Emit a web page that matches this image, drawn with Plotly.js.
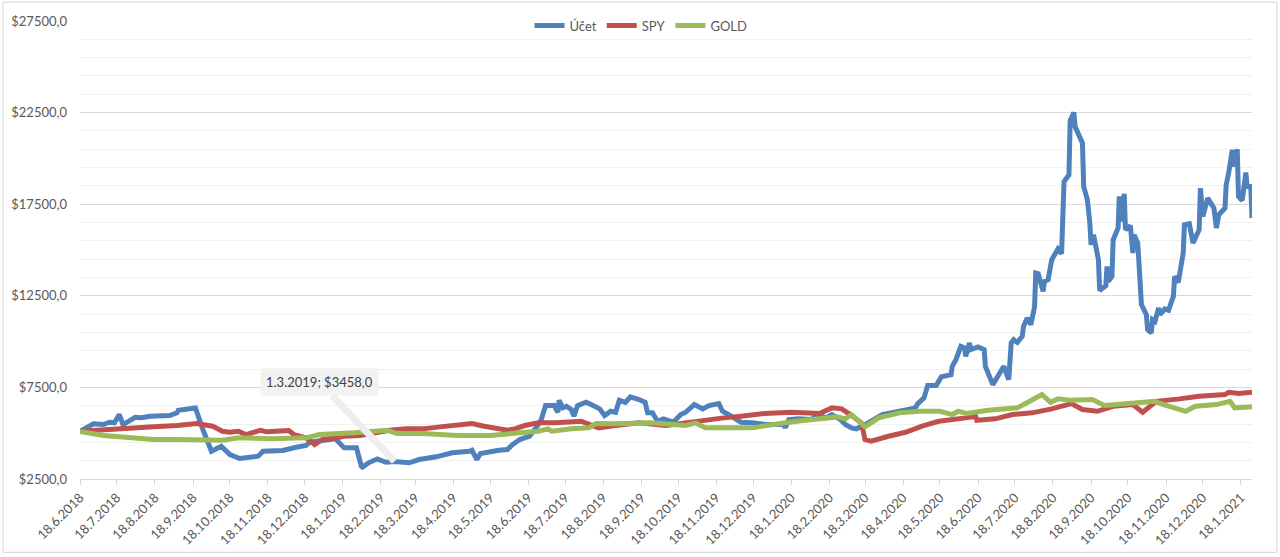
<!DOCTYPE html>
<html>
<head>
<meta charset="utf-8">
<script src="https://cdn.plot.ly/plotly-3.0.1.min.js"></script>
<style>html,body{margin:0;padding:0;background:#fff;}#chart{width:1280px;height:557px;}</style>
</head>
<body>
<div id="chart"></div>
<script>
const seriesNames = ['Účet', 'SPY', 'GOLD'];

const uctetDates = ['2018-06-18','2018-06-29','2018-07-07','2018-07-12','2018-07-16','2018-07-20','2018-07-23','2018-07-27','2018-08-02','2018-08-07','2018-08-14','2018-08-30','2018-09-05','2018-09-06','2018-09-15','2018-09-20','2018-09-26','2018-10-03','2018-10-11','2018-10-18','2018-10-26','2018-11-03','2018-11-10','2018-11-14','2018-11-30','2018-12-11','2018-12-19','2018-12-22','2018-12-30','2019-01-04','2019-01-12','2019-01-19','2019-01-29','2019-02-02','2019-02-03','2019-02-08','2019-02-15','2019-02-22','2019-03-01','2019-03-13','2019-03-21','2019-04-04','2019-04-14','2019-04-17','2019-05-01','2019-05-03','2019-05-07','2019-05-10','2019-05-25','2019-06-01','2019-06-05','2019-06-11','2019-06-19','2019-06-23','2019-06-28','2019-07-02','2019-07-09','2019-07-12','2019-07-13','2019-07-16','2019-07-19','2019-07-23','2019-07-25','2019-07-28','2019-08-04','2019-08-08','2019-08-15','2019-08-19','2019-08-24','2019-08-28','2019-08-31','2019-09-05','2019-09-09','2019-09-16','2019-09-21','2019-09-23','2019-09-27','2019-10-01','2019-10-06','2019-10-14','2019-10-20','2019-10-24','2019-10-31','2019-11-07','2019-11-12','2019-11-20','2019-11-23','2019-11-28','2019-12-05','2019-12-08','2019-12-17','2019-12-28','2020-01-12','2020-01-13','2020-01-16','2020-01-24','2020-02-03','2020-02-09','2020-02-15','2020-02-20','2020-02-27','2020-03-02','2020-03-07','2020-03-11','2020-03-18','2020-04-01','2020-04-15','2020-04-24','2020-04-28','2020-04-30','2020-05-05','2020-05-08','2020-05-15','2020-05-19','2020-05-27','2020-05-28','2020-05-31','2020-06-04','2020-06-07','2020-06-08','2020-06-11','2020-06-12','2020-06-18','2020-06-23','2020-06-24','2020-06-30','2020-07-09','2020-07-13','2020-07-15','2020-07-17','2020-07-20','2020-07-24','2020-07-25','2020-07-28','2020-07-31','2020-08-03','2020-08-04','2020-08-06','2020-08-10','2020-08-11','2020-08-14','2020-08-17','2020-08-20','2020-08-22','2020-08-25','2020-08-27','2020-08-31','2020-09-01','2020-09-04','2020-09-05','2020-09-11','2020-09-12','2020-09-15','2020-09-16','2020-09-17','2020-09-18','2020-09-20','2020-09-24','2020-09-25','2020-09-30','2020-10-01','2020-10-02','2020-10-05','2020-10-06','2020-10-10','2020-10-11','2020-10-13','2020-10-15','2020-10-16','2020-10-20','2020-10-22','2020-10-23','2020-10-26','2020-10-29','2020-11-02','2020-11-03','2020-11-06','2020-11-07','2020-11-09','2020-11-12','2020-11-13','2020-11-17','2020-11-20','2020-11-24','2020-11-25','2020-11-28','2020-12-01','2020-12-02','2020-12-03','2020-12-07','2020-12-10','2020-12-15','2020-12-16','2020-12-18','2020-12-22','2020-12-27','2020-12-29','2020-12-31','2021-01-05','2021-01-06','2021-01-08','2021-01-11','2021-01-12','2021-01-15','2021-01-16','2021-01-19','2021-01-22','2021-01-23','2021-01-26','2021-01-27'];
const uctetValues = [5100,5510,5470,5600,5565,6017,5470,5600,5870,5840,5925,5960,6110,6250,6290,6380,5200,4016,4290,3836,3618,3655,3745,4016,4054,4234,4327,4507,4600,4654,4692,4200,4200,3200,3150,3383,3600,3416,3458,3383,3563,3710,3836,3930,4016,4070,3563,3890,4070,4109,4380,4654,4834,5200,5652,6508,6508,6143,6797,6383,6470,6290,5925,6508,6688,6563,6328,5963,6197,6143,6797,6688,6982,6835,6688,6110,6110,5652,5783,5600,6017,6143,6563,6328,6508,6617,6197,6017,5745,5600,5565,5472,5472,5292,5745,5783,5745,6017,5837,6017,5745,5472,5292,5237,5472,6017,6197,6290,6383,6617,6928,7598,7598,8073,8198,8651,9016,9741,9654,9196,9927,9562,9709,9562,8651,7653,8651,7926,9927,10107,9960,10287,10832,11290,10925,11890,13744,13706,12741,13286,13378,14469,14834,15052,14796,18739,19104,22065,22502,21739,20833,18467,17741,17287,16470,15287,15832,14469,12795,13051,14104,13286,13560,15560,16198,17922,16558,18069,16105,16324,14834,15832,15380,12015,11470,10652,10470,11197,11105,11835,11470,11780,11705,12468,13560,13233,14197,14834,16378,16433,15380,16105,18376,16831,17832,17287,16198,16923,17287,18559,19197,20467,19557,20500,17922,17704,19230,18467,18467,16743];

const spyDates = ['2018-06-18','2018-07-07','2018-07-23','2018-08-17','2018-09-05','2018-09-21','2018-10-04','2018-10-12','2018-10-18','2018-10-25','2018-10-31','2018-11-12','2018-11-17','2018-12-05','2018-12-09','2018-12-19','2018-12-26','2019-01-01','2019-01-13','2019-01-19','2019-02-01','2019-02-12','2019-02-25','2019-03-10','2019-03-24','2019-04-07','2019-04-21','2019-05-03','2019-05-13','2019-06-01','2019-06-07','2019-06-15','2019-06-26','2019-07-10','2019-07-31','2019-08-07','2019-08-14','2019-08-28','2019-09-16','2019-10-08','2019-10-27','2019-11-10','2019-11-24','2019-12-08','2019-12-27','2020-01-18','2020-02-01','2020-02-10','2020-02-20','2020-02-28','2020-03-06','2020-03-15','2020-03-18','2020-03-23','2020-04-06','2020-04-20','2020-05-04','2020-05-17','2020-06-08','2020-06-16','2020-06-17','2020-07-02','2020-07-16','2020-08-01','2020-08-17','2020-09-02','2020-09-11','2020-09-23','2020-10-06','2020-10-22','2020-10-30','2020-11-10','2020-11-29','2020-12-15','2021-01-05','2021-01-08','2021-01-16','2021-01-27'];
const spyValues = [5100,5161,5200,5346,5417,5526,5380,5107,5052,5107,4927,5161,5074,5145,4927,4747,4381,4654,4747,4834,4872,5020,5161,5237,5237,5346,5417,5526,5380,5161,5237,5420,5565,5565,5652,5472,5292,5417,5565,5417,5600,5745,5837,5925,6072,6143,6110,6072,6383,6328,6017,5565,4654,4561,4834,5052,5400,5652,5837,5925,5706,5783,6017,6110,6328,6617,6290,6197,6470,6563,6143,6742,6873,7015,7107,7233,7162,7233];

const goldDates = ['2018-06-18','2018-07-07','2018-07-20','2018-08-17','2018-09-05','2018-09-26','2018-10-12','2018-10-25','2018-11-21','2018-12-19','2018-12-30','2019-01-27','2019-02-12','2019-02-23','2019-03-03','2019-03-24','2019-04-21','2019-05-18','2019-06-04','2019-06-15','2019-06-26','2019-07-04','2019-07-07','2019-07-23','2019-08-06','2019-08-12','2019-08-28','2019-09-25','2019-10-24','2019-11-01','2019-11-09','2019-12-17','2019-12-28','2020-01-16','2020-01-30','2020-02-15','2020-02-24','2020-03-02','2020-03-07','2020-03-18','2020-03-29','2020-04-15','2020-05-01','2020-05-18','2020-05-28','2020-06-02','2020-06-09','2020-06-26','2020-07-20','2020-07-30','2020-08-09','2020-08-16','2020-08-22','2020-09-01','2020-09-19','2020-09-29','2020-10-23','2020-11-09','2020-11-16','2020-12-04','2020-12-12','2020-12-29','2021-01-09','2021-01-13','2021-01-27'];
const goldValues = [5100,4872,4800,4654,4654,4654,4616,4747,4692,4747,4927,5020,5107,5161,4981,4981,4872,4872,4981,5020,5107,5237,5107,5237,5292,5526,5510,5565,5417,5565,5292,5292,5417,5600,5706,5783,5890,5783,6017,5346,5837,6110,6197,6197,6017,6197,6072,6255,6383,6742,7107,6688,6873,6797,6835,6508,6655,6742,6563,6197,6470,6563,6742,6383,6437];

const tickDates = ['2018-06-18','2018-07-18','2018-08-18','2018-09-18','2018-10-18','2018-11-18','2018-12-18','2019-01-18','2019-02-18','2019-03-18','2019-04-18','2019-05-18','2019-06-18','2019-07-18','2019-08-18','2019-09-18','2019-10-18','2019-11-18','2019-12-18','2020-01-18','2020-02-18','2020-03-18','2020-04-18','2020-05-18','2020-06-18','2020-07-18','2020-08-18','2020-09-18','2020-10-18','2020-11-18','2020-12-18','2021-01-18'];

const calloutDate = '2019-03-01';
const calloutValue = 3458;
const calloutText = '1.3.2019; $3458,0';

const FONT = 'Lato, "Open Sans", sans-serif';
const colors = ['#4f81bd', '#c0504d', '#9bbb59'];

const traces = [
  {x: uctetDates, y: uctetValues, name: seriesNames[0]},
  {x: spyDates, y: spyValues, name: seriesNames[1]},
  {x: goldDates, y: goldValues, name: seriesNames[2]}
].map((t, i) => Object.assign(t, {
  type: 'scatter', mode: 'lines',
  line: {color: colors[i], width: 5, shape: 'linear'},
  hoverinfo: 'skip'
}));

const layout = {
  width: 1280, height: 557,
  margin: {l: 80, r: 28, t: 21, b: 78, autoexpand: false},
  paper_bgcolor: '#ffffff', plot_bgcolor: '#ffffff',
  separators: ', ',
  font: {family: FONT, size: 13, color: '#595959'},
  showlegend: true,
  legend: {orientation: 'h', x: 0.4787, xanchor: 'center', y: 0.99, yanchor: 'middle',
           font: {family: FONT, size: 13, color: '#595959'}, bgcolor: 'rgba(0,0,0,0)',
           itemwidth: 30, tracegroupgap: 0},
  xaxis: {
    type: 'date',
    range: [uctetDates[0], uctetDates[uctetDates.length - 1]],
    tickvals: tickDates,
    tickformat: '%-d.%-m.%Y',
    tickangle: -45,
    showgrid: false,
    showline: true, linecolor: '#d9d9d9', linewidth: 1,
    ticks: 'outside', ticklen: 5, tickcolor: '#d9d9d9', tickwidth: 1,
    tickfont: {family: FONT, size: 13, color: '#595959'},
    zeroline: false, fixedrange: true
  },
  yaxis: {
    range: [2500, 27500],
    tick0: 2500, dtick: 5000,
    tickformat: '.1f', tickprefix: '$',
    showgrid: true, gridcolor: '#d9d9d9', gridwidth: 1,
    minor: {tick0: 2500, dtick: 1000, showgrid: true, gridcolor: '#f0f0f0', gridwidth: 1},
    showline: false, zeroline: false, ticks: '',
    ticklabelstandoff: 12,
    tickfont: {family: FONT, size: 13, color: '#595959'},
    fixedrange: true
  },
  annotations: [{
    x: calloutDate, y: calloutValue, xref: 'x', yref: 'y',
    text: calloutText, showarrow: true,
    ax: -75, ay: -79, arrowhead: 0, arrowwidth: 7, arrowcolor: '#eeeeee', standoff: 0,
    bgcolor: '#f2f2f2', borderpad: 5,
    font: {family: FONT, size: 13, color: '#404040'}
  }],
  shapes: [{
    type: 'rect', xref: 'paper', yref: 'paper', layer: 'below',
    x0: -0.0657, x1: 1.0213, y0: -0.160, y1: 1.0414,
    line: {color: '#d4d4d4', width: 1}, fillcolor: 'rgba(0,0,0,0)'
  }]
};

Plotly.newPlot('chart', traces, layout, {staticPlot: true, displayModeBar: false});
</script>
</body>
</html>
